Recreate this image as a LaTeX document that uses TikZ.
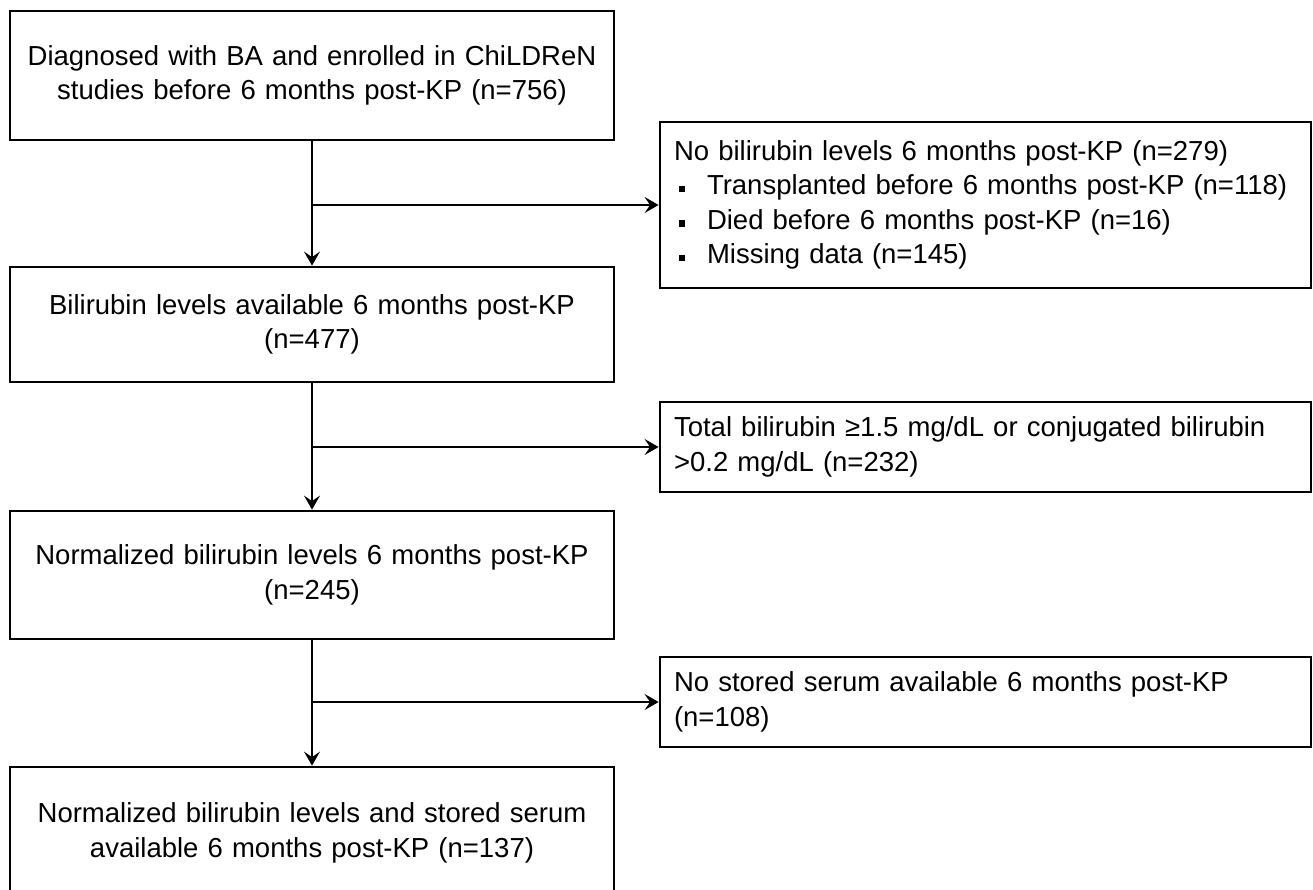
\documentclass[tikz,border=0pt]{standalone}
\usepackage{fontspec}
\setmainfont{Liberation Sans}
\usetikzlibrary{arrows.meta}
\newcommand{\fcbullet}{\makebox[33pt][l]{\hspace{5pt}\rule[2.5pt]{5.5pt}{6.5pt}}}
\begin{document}
\begin{tikzpicture}[x=1pt,y=-1pt,
  box/.style={draw, line width=2.8pt, font=\fontsize{27.5}{34.5}\selectfont, inner sep=0pt},
  lbox/.style={box, minimum width=604pt, align=center, text width=590pt},
  rbox/.style={box, minimum width=651pt, align=left, text width=623pt, inner xsep=14pt},
  arr/.style={line width=2.6pt, -{Stealth[length=14pt,width=16pt,inset=5.5pt]}}]
\useasboundingbox (0,0) rectangle (1313,889);
\clip (0,0) rectangle (1313,889);
\fill[white] (0,0) rectangle (1313,889);

\node[lbox, minimum height=129pt] (b1) at (312,75.5)
  {Diagnosed with BA and enrolled in ChiLDReN\\studies before 6 months post-KP (n=756)};
\node[lbox, minimum height=115pt] (b2) at (312,324.5)
  {Bilirubin levels available 6 months post-KP\\(n=477)};
\node[lbox, minimum height=128pt] (b3) at (312,575)
  {Normalized bilirubin levels 6 months post-KP\\(n=245)};
\node[lbox, minimum height=132pt] (b4) at (312,833)
  {Normalized bilirubin levels and stored serum\\available 6 months post-KP (n=137)};

\node[rbox, minimum height=166pt] (r1) at (985.5,205)
  {No bilirubin levels 6 months post-KP (n=279)\\
   \fcbullet Transplanted before 6 months post-KP (n=118)\\
   \fcbullet Died before 6 months post-KP (n=16)\\
   \fcbullet Missing data (n=145)};
\node[rbox, minimum height=90pt] (r2) at (985.5,447)
  {Total bilirubin ≥1.5 mg/dL or conjugated bilirubin\\>0.2 mg/dL (n=232)};
\node[rbox, minimum height=90pt] (r3) at (985.5,702)
  {No stored serum available 6 months post-KP\\(n=108)};

\draw[arr] (b1) -- (b2);
\draw[arr] (b2) -- (b3);
\draw[arr] (b3) -- (b4);
\draw[arr] (b1.south |- r1.west) -- (r1.west);
\draw[arr] (b2.south |- r2.west) -- (r2.west);
\draw[arr] (b3.south |- r3.west) -- (r3.west);
\end{tikzpicture}
\end{document}
